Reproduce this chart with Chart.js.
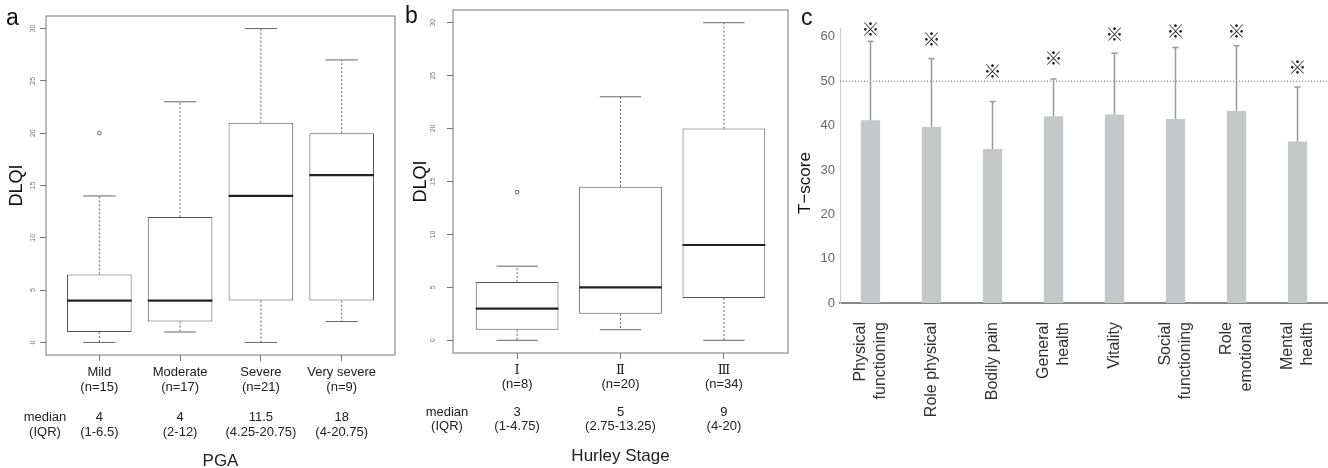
<!DOCTYPE html>
<html>
<head>
<meta charset="utf-8">
<script src="https://cdn.jsdelivr.net/npm/chart.js@4.4.0/dist/chart.umd.min.js"></script>
<style>
  html, body { margin: 0; padding: 0; background: #fff; overflow: hidden; width: 1328px; height: 468px; }
  .panel { position: absolute; top: 0; height: 468px; }
  .tag { position: absolute; font-family: "Liberation Sans", Arial, sans-serif; font-size: 23px; line-height: 23px; color: #111; }
  .ytitle { position: absolute; font-family: "Liberation Sans", Arial, sans-serif; font-size: 17px; color: #111;
            transform: translate(-50%, -50%) rotate(-90deg); white-space: nowrap; }
</style>
</head>
<body>
<div class="panel" style="left:0;width:410px"><canvas id="chartA"></canvas></div>
<div class="panel" style="left:400px;width:400px"><canvas id="chartB"></canvas></div>
<div class="panel" style="left:790px;width:538px"><canvas id="chartC"></canvas></div>
<div class="tag" style="left:6px;top:6px">a</div>
<div class="tag" style="left:405px;top:4px">b</div>
<div class="tag" style="left:801px;top:6px">c</div>
<div class="ytitle" style="left:805px;top:183px">T−score</div>

<script>
// ---- panel a: DLQI by PGA ----
const pgaGroups = ["Mild", "Moderate", "Severe", "Very severe"];
const pgaN = [15, 17, 21, 9];
const pgaMin = [0, 1, 0, 2];
const pgaQ1 = [1, 2, 4, 4];
const pgaMedian = [4, 4, 14, 16];
const pgaQ3 = [6.5, 12, 21, 20];
const pgaMax = [14, 23, 30, 27];
const pgaOutGroup = [1];
const pgaOutValue = [20];
const pgaMedianText = ["4", "4", "11.5", "18"];
const pgaIqrText = ["(1-6.5)", "(2-12)", "(4.25-20.75)", "(4-20.75)"];

// ---- panel b: DLQI by Hurley stage ----
const hurleyGroups = ["Ⅰ", "Ⅱ", "Ⅲ"];
const hurleyN = [8, 20, 34];
const hurleyMin = [0, 1, 0];
const hurleyQ1 = [1, 2.5, 4];
const hurleyMedian = [3, 5, 9];
const hurleyQ3 = [5.5, 14.5, 20];
const hurleyMax = [7, 23, 30];
const hurleyOutGroup = [1];
const hurleyOutValue = [14];
const hurleyMedianText = ["3", "5", "9"];
const hurleyIqrText = ["(1-4.75)", "(2.75-13.25)", "(4-20)"];

const dlqiTicks = [0, 5, 10, 15, 20, 25, 30];

// ---- panel c: SF-36 T-scores ----
const sfLabels = [["Physical", "functioning"], ["Role physical"], ["Bodily pain"], ["General", "health"],
                  ["Vitality"], ["Social", "functioning"], ["Role", "emotional"], ["Mental", "health"]];
const sfMean = [41.2, 39.7, 34.7, 42.1, 42.5, 41.5, 43.3, 36.4];
const sfSD = [17.8, 15.4, 10.7, 8.4, 13.8, 16.1, 14.7, 12.3];
const sfMarkY = [61.8, 59.4, 52.2, 55.1, 60.7, 61.2, 61.4, 53.2];
const tTicks = [0, 10, 20, 30, 40, 50, 60];
const normLine = 50;

const FONT = '"Liberation Sans", Arial, sans-serif';
const TICK_FONT = '"Liberation Sans", "DejaVu Serif", "Noto Sans CJK JP", sans-serif';

function line(ctx, x1, y1, x2, y2) {
  ctx.beginPath();
  ctx.moveTo(x1, y1);
  ctx.lineTo(x2, y2);
  ctx.stroke();
}

// whiskers, medians, frame, rotated y labels and the "median (IQR)" header
function boxExtras(g, lay) {
  return {
    id: 'boxExtras',
    afterDatasetsDraw(chart) {
      const { ctx, chartArea } = chart;
      const x = chart.scales.x, y = chart.scales.y;
      ctx.save();
      g.median.forEach((m, i) => {
        const cx = x.getPixelForValue(i + 1);
        const half = x.getPixelForValue(i + 1.4) - cx;
        const cap = half / 2;
        ctx.strokeStyle = '#666';
        ctx.lineWidth = 1;
        ctx.setLineDash([2, 2]);
        line(ctx, cx, y.getPixelForValue(g.q3[i]), cx, y.getPixelForValue(g.max[i]));
        line(ctx, cx, y.getPixelForValue(g.q1[i]), cx, y.getPixelForValue(g.min[i]));
        ctx.setLineDash([]);
        line(ctx, cx - cap, y.getPixelForValue(g.max[i]), cx + cap, y.getPixelForValue(g.max[i]));
        line(ctx, cx - cap, y.getPixelForValue(g.min[i]), cx + cap, y.getPixelForValue(g.min[i]));
        ctx.strokeStyle = '#222';
        ctx.lineWidth = 2.2;
        line(ctx, cx - half, y.getPixelForValue(m), cx + half, y.getPixelForValue(m));
      });
      // frame
      ctx.strokeStyle = '#777';
      ctx.lineWidth = 1;
      ctx.strokeRect(chartArea.left, chartArea.top, chartArea.right - chartArea.left, chartArea.bottom - chartArea.top);
      // y tick labels, parallel to the axis
      ctx.fillStyle = '#777';
      ctx.font = '7px ' + FONT;
      ctx.textAlign = 'center';
      ctx.textBaseline = 'middle';
      y.ticks.forEach(t => {
        ctx.save();
        ctx.translate(chartArea.left - lay.labelGap, y.getPixelForValue(t.value));
        ctx.rotate(-Math.PI / 2);
        ctx.fillText(String(t.value), 0, 0);
        ctx.restore();
      });
      // row header
      ctx.fillStyle = '#222';
      ctx.font = '13px ' + FONT;
      const base = x.top + 10 + lay.lh / 2;
      ctx.fillText('median', chartArea.left - lay.headShift, base + 3 * lay.lh);
      ctx.fillText('(IQR)', chartArea.left - lay.headShift, base + 4 * lay.lh);
      ctx.restore();
    }
  };
}

function boxChart(id, g, lay) {
  const n = g.labels.length;
  const groupX = g.labels.map((_, i) => i + 1);
  return new Chart(document.getElementById(id), {
    type: 'bar',
    data: {
      datasets: [
        {
          type: 'bar',
          data: groupX.map((gx, i) => ({ x: gx, y: [g.q1[i], g.q3[i]] })),
          backgroundColor: '#fff',
          borderColor: '#555',
          borderWidth: 1,
          borderSkipped: false,
          categoryPercentage: 1,
          barPercentage: 0.8
        },
        {
          type: 'scatter',
          data: g.outGroup.map((gx, i) => ({ x: gx, y: g.outValue[i] })),
          pointRadius: 1.8,
          borderWidth: 1,
          borderColor: '#666',
          backgroundColor: 'rgba(0,0,0,0)'
        }
      ]
    },
    options: {
      responsive: true,
      maintainAspectRatio: false,
      animation: false,
      layout: { padding: { top: lay.top, right: lay.right, left: 0, bottom: 0 } },
      plugins: { legend: { display: false }, tooltip: { enabled: false } },
      scales: {
        x: {
          type: 'linear',
          min: 0.5 - 0.04 * n,
          max: n + 0.5 + 0.04 * n,
          offset: false,
          afterBuildTicks: s => { s.ticks = groupX.map(v => ({ value: v })); },
          afterFit: s => { s.height = lay.xHeight; },
          grid: { display: true, offset: false, drawOnChartArea: false, tickLength: 6, tickColor: '#777' },
          border: { display: false },
          ticks: {
            autoSkip: false,
            maxRotation: 0,
            padding: 4,
            color: '#222',
            font: { family: TICK_FONT, size: 13, lineHeight: lay.lh + 'px' },
            callback: (v, i) => [g.labels[i], '(n=' + g.n[i] + ')', '', g.medText[i], g.iqrText[i]]
          },
          title: {
            display: true,
            text: lay.xTitle,
            color: '#222',
            font: { family: FONT, size: 17 },
            padding: { top: 0, bottom: lay.xTitlePad }
          }
        },
        y: {
          min: -1.2,
          max: 31.2,
          afterBuildTicks: s => { s.ticks = dlqiTicks.map(v => ({ value: v })); },
          afterFit: s => { s.width = lay.yWidth; },
          ticks: { display: false },
          grid: { display: true, drawOnChartArea: false, tickLength: 6, tickColor: '#777' },
          border: { display: false },
          title: {
            display: true,
            text: 'DLQI',
            color: '#111',
            font: { family: FONT, size: 18 },
            padding: { top: lay.yTitlePad, bottom: 0 }
          }
        }
      }
    },
    plugins: [boxExtras(g, lay)]
  });
}

boxChart('chartA', {
  labels: pgaGroups, n: pgaN, min: pgaMin, q1: pgaQ1, median: pgaMedian, q3: pgaQ3, max: pgaMax,
  outGroup: pgaOutGroup, outValue: pgaOutValue, medText: pgaMedianText, iqrText: pgaIqrText
}, { top: 16, right: 15, yWidth: 46, xHeight: 113, lh: 15, labelGap: 13, headShift: 1,
     xTitle: 'PGA', xTitlePad: -4, yTitlePad: 6 });

boxChart('chartB', {
  labels: hurleyGroups, n: hurleyN, min: hurleyMin, q1: hurleyQ1, median: hurleyMedian, q3: hurleyQ3, max: hurleyMax,
  outGroup: hurleyOutGroup, outValue: hurleyOutValue, medText: hurleyMedianText, iqrText: hurleyIqrText
}, { top: 10, right: 12, yWidth: 53, xHeight: 115, lh: 14, labelGap: 20, headShift: 6,
     xTitle: 'Hurley Stage', xTitlePad: 1, yTitlePad: 10 });

// ---- panel c ----
const sfExtras = {
  id: 'sfExtras',
  afterDatasetsDraw(chart) {
    const { ctx, chartArea } = chart;
    const x = chart.scales.x, y = chart.scales.y;
    ctx.save();
    // reference line at T = 50
    ctx.strokeStyle = '#666';
    ctx.lineWidth = 1;
    ctx.setLineDash([1, 2]);
    line(ctx, chartArea.left, y.getPixelForValue(normLine), chartArea.right, y.getPixelForValue(normLine));
    ctx.setLineDash([]);
    // upper SD bars
    ctx.strokeStyle = '#999';
    ctx.lineWidth = 1.5;
    sfMean.forEach((m, i) => {
      const px = x.getPixelForValue(i);
      const top = y.getPixelForValue(m + sfSD[i]);
      line(ctx, px, y.getPixelForValue(m), px, top);
      line(ctx, px - 3, top, px + 3, top);
    });
    // significance marks
    ctx.fillStyle = '#222';
    ctx.font = '18px "Noto Sans CJK JP", sans-serif';
    ctx.textAlign = 'center';
    ctx.textBaseline = 'middle';
    sfMarkY.forEach((v, i) => ctx.fillText('※', x.getPixelForValue(i), y.getPixelForValue(v)));
    // rotated category labels
    ctx.fillStyle = '#333';
    ctx.font = '16px ' + FONT;
    ctx.textAlign = 'right';
    const lh = 20;
    sfLabels.forEach((lines, i) => {
      const px = x.getPixelForValue(i);
      lines.forEach((t, k) => {
        ctx.save();
        ctx.translate(px + (k - (lines.length - 1) / 2) * lh, chartArea.bottom + 19);
        ctx.rotate(-Math.PI / 2);
        ctx.fillText(t, 0, 0);
        ctx.restore();
      });
    });
    ctx.restore();
  }
};

new Chart(document.getElementById('chartC'), {
  type: 'bar',
  data: {
    labels: sfLabels.map(l => l.join(' ')),
    datasets: [{
      data: sfMean,
      backgroundColor: '#c6c7c9',
      borderWidth: 0,
      categoryPercentage: 1,
      barPercentage: 0.315
    }]
  },
  options: {
    responsive: true,
    maintainAspectRatio: false,
    animation: false,
    layout: { padding: { top: 28, right: 0, left: 0, bottom: 0 } },
    plugins: { legend: { display: false }, tooltip: { enabled: false } },
    scales: {
      x: {
        afterFit: s => { s.height = 165; },
        ticks: { display: false },
        grid: { display: false, drawTicks: false },
        border: { display: true, color: '#888', width: 2 }
      },
      y: {
        min: 0,
        max: 62,
        afterBuildTicks: s => { s.ticks = tTicks.map(v => ({ value: v })); },
        afterFit: s => { s.width = 50; },
        ticks: { color: '#666', padding: 5, font: { family: FONT, size: 13 } },
        grid: { display: false, drawTicks: false },
        border: { display: true, color: '#ccc', width: 1 }
      }
    }
  },
  plugins: [sfExtras]
});
</script>
</body>
</html>
